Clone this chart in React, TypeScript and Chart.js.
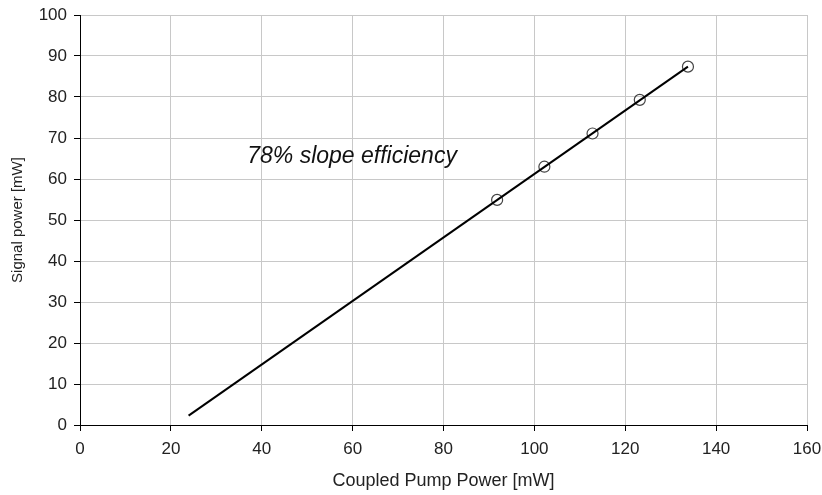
import React, { useEffect, useRef } from "react";
import { Chart, registerables } from "chart.js";

Chart.register(...registerables);

// Measured data points (Coupled pump power [mW], Signal power [mW])
const pumpPower = [91.8, 102.2, 112.8, 123.2, 133.8];
const signalPower = [54.9, 63.0, 71.1, 79.3, 87.4];

// Linear fit line endpoints
const fitX = [23.9, 133.8];
const fitY = [2.3, 87.4];

const xTitle = "Coupled Pump Power [mW]";
const yTitle = "Signal power [mW]";
const annotationText = "78% slope efficiency";
const annotationPos = { x: 36.8, y: 63.9 };

const FONT = "'Liberation Sans', Arial, sans-serif";

const annotationPlugin = {
  id: "slopeAnnotation",
  afterDatasetsDraw(chart: any) {
    const { ctx, scales } = chart;
    const px = scales.x.getPixelForValue(annotationPos.x);
    const py = scales.y.getPixelForValue(annotationPos.y);
    ctx.save();
    ctx.font = `italic 23px ${FONT}`;
    ctx.fillStyle = "#111";
    ctx.textAlign = "left";
    ctx.textBaseline = "alphabetic";
    ctx.fillText(annotationText, px, py);
    ctx.restore();
  },
};

export default function App() {
  const canvasRef = useRef<HTMLCanvasElement | null>(null);

  useEffect(() => {
    document.body.style.margin = "0";
    const canvas = canvasRef.current;
    if (!canvas) return;

    const fitData = fitX.map((x, i) => ({ x, y: fitY[i] }));
    const pointData = pumpPower.map((x, i) => ({ x, y: signalPower[i] }));

    const chart = new Chart(canvas, {
      type: "scatter",
      data: {
        datasets: [
          {
            label: "fit",
            data: fitData,
            showLine: true,
            borderColor: "#000",
            borderWidth: 2,
            pointRadius: 0,
            pointHoverRadius: 0,
            order: 0,
          },
          {
            label: "measured",
            data: pointData,
            showLine: false,
            pointRadius: 5.5,
            pointBorderColor: "#444",
            pointBorderWidth: 1.2,
            pointBackgroundColor: "rgba(0,0,0,0)",
            borderColor: "#444",
            backgroundColor: "rgba(0,0,0,0)",
            order: 1,
          },
        ],
      },
      options: {
        animation: false,
        responsive: true,
        maintainAspectRatio: false,
        layout: { padding: { top: 15, right: 15, left: 0, bottom: 0 } },
        plugins: {
          legend: { display: false },
          tooltip: { enabled: false },
        },
        scales: {
          x: {
            type: "linear",
            min: 0,
            max: 160,
            afterFit: (scale: any) => {
              scale.height = 70;
              scale.paddingLeft = 0;
              scale.paddingRight = 0;
            },
            ticks: {
              stepSize: 20,
              color: "#222",
              padding: 8,
              font: { family: FONT, size: 17 },
              maxRotation: 0,
            },
            grid: {
              color: "#c8c8c8",
              lineWidth: 1,
              tickLength: 6,
              tickColor: "#000",
            },
            border: { color: "#000", width: 1 },
            title: {
              display: true,
              text: xTitle,
              color: "#222",
              font: { family: FONT, size: 18 },
              padding: { top: 0, bottom: 3 },
            },
          },
          y: {
            type: "linear",
            min: 0,
            max: 100,
            afterFit: (scale: any) => {
              scale.width = 80;
              scale.paddingTop = 0;
              scale.paddingBottom = 0;
            },
            ticks: {
              stepSize: 10,
              color: "#222",
              padding: 7,
              font: { family: FONT, size: 17 },
            },
            grid: {
              color: "#c8c8c8",
              lineWidth: 1,
              tickLength: 6,
              tickColor: "#000",
            },
            border: { color: "#000", width: 1 },
            title: {
              display: true,
              text: yTitle,
              color: "#222",
              font: { family: FONT, size: 15 },
              padding: { top: 9, bottom: 0 },
            },
          },
        },
      },
      plugins: [annotationPlugin],
    });

    return () => {
      chart.destroy();
    };
  }, []);

  return (
    <div style={{ position: "relative", width: "822px", height: "495px", background: "#fff" }}>
      <canvas ref={canvasRef} />
    </div>
  );
}
